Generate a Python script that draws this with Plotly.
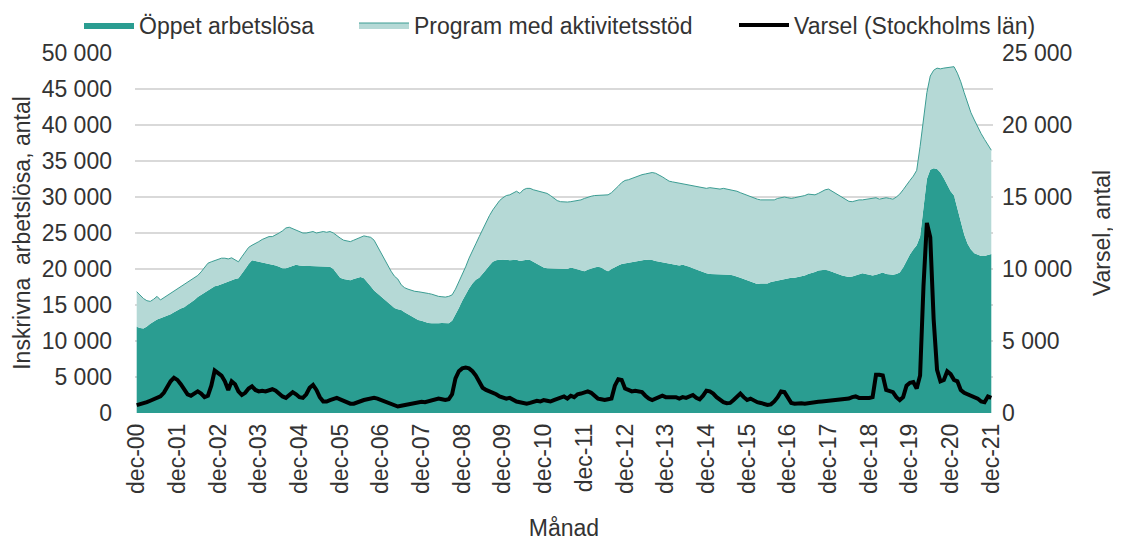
import plotly.graph_objects as go

# Month labels (dec-00 ... dec-21)
month_names = ["jan", "feb", "mar", "apr", "maj", "jun", "jul", "aug", "sep", "okt", "nov", "dec"]
months = ["dec-00"] + [f"{mn}-{y:02d}" for y in range(1, 22) for mn in month_names]
tick_labels = [f"dec-{y:02d}" for y in range(0, 22)]

# Öppet arbetslösa (left axis)
oppet = [11990,
    11800, 11750, 12000, 12400, 12700, 13000, 13150, 13300, 13500, 13700, 14000, 14300,
    14500, 14700, 15000, 15300, 15700, 16100, 16400, 16800, 17100, 17400, 17600, 17700,
    17900, 18100, 18300, 18500, 18600, 18700, 19300, 20000, 20700, 21200, 21100, 21000,
    20900, 20800, 20800, 20700, 20500, 20300, 20100, 20100, 20300, 20500, 20600, 20500,
    20400, 20400, 20400, 20400, 20350, 20400, 20400, 20350, 20300, 20000, 19400, 18800,
    18600, 18500, 18450, 18600, 18800, 18900, 18700, 18200, 17600, 17000, 16600, 16200,
    15800, 15400, 15000, 14600, 14400, 14300, 14000, 13700, 13400, 13100, 12900, 12800,
    12600, 12500, 12450, 12400, 12450, 12500, 12460, 12450, 12800, 13600, 14600, 15600,
    16500, 17300, 18000, 18500, 18800, 19300, 19900, 20500, 21000, 21200, 21300, 21250,
    21300, 21200, 21200, 21300, 21100, 21200, 21300, 21250, 21000, 20700, 20400, 20200,
    20100, 20100, 20100, 20000, 20100, 20100, 20000, 20200, 20100, 20000, 19900, 19700,
    19900, 20100, 20200, 20300, 20200, 19900, 19700, 20000, 20300, 20500, 20700, 20800,
    20900, 21000, 21100, 21200, 21250, 21300, 21250, 21250, 21100, 21000, 20900, 20800,
    20700, 20600, 20500, 20500, 20600, 20500, 20300, 20100, 19900, 19700, 19500, 19400,
    19300, 19300, 19200, 19200, 19300, 19200, 19200, 19100, 19000, 18800, 18600, 18400,
    18200, 18000, 17900, 18000, 17950, 18000, 18200, 18300, 18500, 18600, 18700, 18700,
    18800, 18800, 18900, 18900, 19100, 19300, 19400, 19600, 19800, 19900, 19900, 19800,
    19600, 19400, 19300, 19100, 19000, 18900, 18950, 19100, 19300, 19400, 19300, 19200,
    19100, 19200, 19400, 19500, 19300, 19200, 19200, 19300, 19500, 20200, 21200, 22000,
    22700, 23300, 24500, 28500, 32500, 33800, 34000, 33900, 33400, 32600, 31600, 30800,
    30200, 28500, 26500, 24800, 23500, 22700, 22200, 22000, 21800, 21800, 22000, 22100]

# Total inskrivna (Öppet arbetslösa + Program med aktivitetsstöd), top of the light area
total = [16850,
    16300, 15900, 15600, 15500, 15800, 16200, 15700, 16000, 16400, 16700, 17000, 17300,
    17600, 17900, 18200, 18500, 18800, 19100, 19600, 20200, 20800, 21000, 21200, 21400,
    21500, 21500, 21400, 21550, 21300, 21000, 21700, 22400, 23000, 23300, 23500, 23800,
    24100, 24300, 24500, 24500, 24700, 25000, 25300, 25700, 25800, 25600, 25300, 25100,
    25000, 25000, 25100, 25200, 25000, 25100, 25200, 25100, 25200, 25000, 24600, 24300,
    24000, 23900, 23800, 24000, 24200, 24400, 24600, 24500, 24400, 24000, 23100, 22300,
    21500, 20600, 19700, 19000, 18600, 17800, 17400, 17200, 17000, 16900, 16850, 16800,
    16700, 16600, 16500, 16300, 16200, 16150, 16100, 16200, 16400, 17200, 18200, 19300,
    20300, 21500, 22600, 23500, 24500, 25500, 26500, 27400, 28200, 28900, 29500, 29900,
    30200, 30300, 30600, 30800, 30500, 31000, 31200, 31200, 31000, 30900, 30700, 30600,
    30500, 30200, 29800, 29500, 29350, 29300, 29300, 29350, 29400, 29500, 29600, 29800,
    30000, 30100, 30200, 30200, 30250, 30300, 30300, 30600, 31000, 31500, 32000, 32300,
    32400, 32600, 32800, 33000, 33100, 33200, 33300, 33400, 33300, 33100, 32800, 32500,
    32200, 32100, 32000, 31900, 31800, 31700, 31600, 31500, 31400, 31300, 31250, 31200,
    31300, 31200, 31100, 31100, 31200, 31100, 31000, 31000, 30800, 30600, 30400, 30300,
    30100, 29900, 29700, 29600, 29600, 29600, 29500, 29600, 29800, 29900, 30000, 29900,
    29800, 29900, 30000, 30050, 30200, 30400, 30300, 30300, 30500, 30800, 31000, 31100,
    30800, 30500, 30200, 29900, 29600, 29400, 29350, 29500, 29600, 29600, 29700, 29800,
    29800, 29900, 29700, 29800, 29900, 29800, 29700, 30000, 30400, 31000, 31700, 32300,
    32900, 33700, 37000, 41000, 44500, 46800, 47600, 47900, 47800, 47900, 48000, 48100,
    48100, 47200, 46000, 44500, 43000, 41700, 40700, 39700, 38800, 38000, 37200, 36500]

# Varsel (Stockholms län), right axis
varsel = [550,
    600, 650, 750, 850, 950, 1050, 1150, 1400, 1800, 2200, 2450, 2300,
    2000, 1600, 1300, 1200, 1350, 1500, 1350, 1100, 1200, 1900, 2950, 2800,
    2600, 2200, 1600, 2200, 2000, 1500, 1250, 1400, 1700, 1850, 1600, 1500,
    1550, 1500, 1550, 1650, 1550, 1300, 1150, 1050, 1300, 1450, 1300, 1100,
    1050, 1300, 1750, 1950, 1600, 1100, 800, 800, 900, 1000, 1050, 950,
    850, 750, 650, 650, 750, 800, 900, 950, 1000, 1050, 1000, 900,
    800, 700, 600, 500, 450, 500, 550, 650, 700, 750, 800, 780,
    750, 800, 900, 950, 1000, 950, 900, 950, 1300, 2400, 2900, 3100,
    3150, 3100, 2900, 2600, 2100, 1750, 1600, 1500, 1450, 1300, 1150, 1050,
    1000, 1050, 900, 800, 750, 700, 650, 700, 800, 850, 800, 900,
    850, 800, 900, 1000, 1050, 1150, 1000, 1200, 1100, 1300, 1350, 1400,
    1500, 1400, 1200, 1000, 950, 900, 950, 1000, 1900, 2350, 2300, 1700,
    1600, 1500, 1550, 1500, 1450, 1200, 1000, 900, 1000, 1100, 1200, 1100,
    1100, 1150, 1100, 1000, 1100, 1050, 1150, 1250, 1050, 950, 1200, 1550,
    1500, 1350, 1100, 900, 750, 680, 700, 900, 1100, 1350, 1100, 900,
    1000, 850, 750, 700, 650, 560, 600, 800, 1100, 1500, 1450, 1000,
    700, 650, 700, 680, 650, 700, 750, 760, 780, 800, 820, 850,
    870, 880, 900, 920, 950, 1000, 1100, 1150, 1050, 1050, 1000, 1050,
    1100, 2650, 2650, 2600, 1600, 1550, 1450, 1100, 900, 1100, 1900, 2100,
    2150, 1700, 2600, 8800, 13200, 12200, 6500, 3000, 2200, 2300, 2900, 2700,
    2300, 2200, 1600, 1400, 1300, 1200, 1100, 1000, 800, 750, 1150, 1050]

DARK = "#2a9d91"
LIGHT = "#b5d9d6"
EDGE = "#3c9d93"
TEXT = "#333333"
FONT = "Liberation Sans, Arial, sans-serif"
FS = 23

fig = go.Figure()
fig.add_trace(go.Scatter(
    x=months, y=oppet, name="Öppet arbetslösa", mode="lines",
    line=dict(width=0, color=DARK), fill="tozeroy", fillcolor=DARK,
    hoverinfo="skip", legend="legend"))
fig.add_trace(go.Scatter(
    x=months, y=total, name="Program med aktivitetsstöd", mode="lines",
    line=dict(width=1, color=EDGE), fill="tonexty", fillcolor=LIGHT,
    hoverinfo="skip", legend="legend2"))
fig.add_trace(go.Scatter(
    x=months, y=varsel, name="Varsel (Stockholms län)", mode="lines",
    line=dict(width=4, color="black"), yaxis="y2",
    hoverinfo="skip", legend="legend3"))

W, H = 1113, 533
leg_common = dict(orientation="h", xref="container", yref="container",
                  xanchor="left", y=0.968, yanchor="middle",
                  font=dict(size=FS, color=TEXT), itemwidth=50,
                  bgcolor="rgba(0,0,0,0)")

fig.update_layout(
    width=W, height=H,
    margin=dict(l=127, r=128, t=45, b=128, autoexpand=False),
    paper_bgcolor="white", plot_bgcolor="white",
    separators=", ",
    font=dict(family=FONT, size=FS, color=TEXT),
    showlegend=True,
    legend=dict(x=71 / W, **leg_common),
    legend2=dict(x=346 / W, **leg_common),
    legend3=dict(x=726 / W, **leg_common),
    xaxis=dict(type="category", range=[-0.5, len(months) - 0.5], automargin=False,
               tickmode="array", tickvals=tick_labels, ticktext=tick_labels,
               tickangle=-90, showgrid=False, showline=False, ticks="",
               ticklabelstandoff=5,
               zeroline=False, tickfont=dict(size=FS, color=TEXT),
               title=dict(text="Månad", font=dict(size=FS, color=TEXT), standoff=30)),
    yaxis=dict(range=[0, 50000], dtick=5000, tickformat=",d", automargin=False,
               showgrid=True, gridcolor="#d9d9d9", gridwidth=1.5,
               zeroline=False, showline=False, ticks="",
               ticklabelstandoff=22, tickfont=dict(size=FS, color=TEXT),
               title=dict(text="Inskrivna  arbetslösa, antal",
                          font=dict(size=FS, color=TEXT), standoff=4)),
    yaxis2=dict(range=[0, 25000], dtick=5000, tickformat=",d", automargin=False,
                overlaying="y", side="right", showgrid=False,
                zeroline=False, showline=False, ticks="",
                ticklabelstandoff=8, tickfont=dict(size=FS, color=TEXT),
                title=dict(text="Varsel, antal",
                           font=dict(size=FS, color=TEXT), standoff=22)),
)

fig.write_html("out.html")
